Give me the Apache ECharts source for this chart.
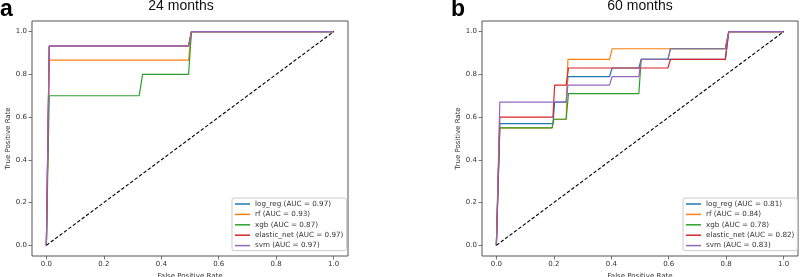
<!DOCTYPE html>
<html>
<head>
<meta charset="utf-8">
<script src="https://cdn.jsdelivr.net/npm/echarts@6/dist/echarts.min.js"></script>
<style>
  html, body { margin: 0; padding: 0; background: #fff; }
  #chart { width: 800px; height: 277px; }
</style>
</head>
<body>
<div id="chart"></div>
<script>
// ROC curves
const axisTicks = [0, 0.2, 0.4, 0.6, 0.8, 1.0];
const models = ['log_reg', 'rf', 'xgb', 'elastic_net', 'svm'];
const auc24 = [0.97, 0.93, 0.87, 0.97, 0.97];
const auc60 = [0.81, 0.84, 0.78, 0.82, 0.83];
const chance = [[0, 0], [1, 1]];

// 24 months: [fpr, tpr]
const logReg24 = [[0, 0], [0.01, 0.933], [0.495, 0.933], [0.505, 1], [1, 1]];
const rf24 = [[0, 0], [0.01, 0.867], [0.495, 0.867], [0.505, 1], [1, 1]];
const xgb24 = [[0, 0], [0.01, 0.7], [0.323, 0.7], [0.335, 0.8], [0.495, 0.8], [0.505, 1], [1, 1]];
const elasticNet24 = [[0, 0], [0.01, 0.933], [0.495, 0.933], [0.505, 1], [1, 1]];
const svm24 = [[0, 0], [0.01, 0.933], [0.495, 0.933], [0.505, 1], [1, 1]];

// 60 months
const logReg60 = [[0, 0], [0.012, 0.57], [0.197, 0.57], [0.203, 0.67], [0.243, 0.67], [0.249, 0.79], [0.394, 0.79], [0.403, 0.83], [0.496, 0.83], [0.504, 0.87], [0.797, 0.87], [0.809, 1], [1, 1]];
const rf60 = [[0, 0], [0.012, 0.55], [0.194, 0.55], [0.2, 0.59], [0.243, 0.59], [0.249, 0.87], [0.394, 0.87], [0.403, 0.92], [0.797, 0.92], [0.809, 1], [1, 1]];
const xgb60 = [[0, 0], [0.012, 0.55], [0.194, 0.55], [0.2, 0.59], [0.243, 0.59], [0.251, 0.71], [0.496, 0.71], [0.504, 0.87], [0.597, 0.87], [0.606, 0.92], [0.797, 0.92], [0.809, 1], [1, 1]];
const elasticNet60 = [[0, 0], [0.012, 0.6], [0.197, 0.6], [0.203, 0.75], [0.243, 0.75], [0.251, 0.83], [0.597, 0.83], [0.606, 0.87], [0.797, 0.87], [0.809, 1], [1, 1]];
const svm60 = [[0, 0], [0.012, 0.67], [0.243, 0.67], [0.249, 0.75], [0.394, 0.75], [0.403, 0.79], [0.496, 0.79], [0.504, 0.87], [0.597, 0.87], [0.606, 0.92], [0.797, 0.92], [0.809, 1], [1, 1]];

const curves24 = [logReg24, rf24, xgb24, elasticNet24, svm24];
const curves60 = [logReg60, rf60, xgb60, elasticNet60, svm60];
const colors = ['#1f77b4', '#ff7f0e', '#2ca02c', '#d62728', '#9467bd'];

const FONT = 'DejaVu Sans';
const TXT = '#333';

const panelNames = (aucs) => models.map((m, i) => m + ' (AUC = ' + aucs[i].toFixed(2) + ')');

const makeSeries = (curves, aucs, idx) => {
  const names = panelNames(aucs);
  const list = curves.map((c, i) => ({
    name: names[i],
    type: 'line',
    xAxisIndex: idx,
    yAxisIndex: idx,
    data: c,
    symbol: 'none',
    lineStyle: { color: colors[i], width: 1.2 },
    itemStyle: { color: colors[i] },
    z: 2 + i
  }))
  // chance line
  list.push({
    type: 'line',
    xAxisIndex: idx,
    yAxisIndex: idx,
    data: chance,
    symbol: 'none',
    lineStyle: { color: '#000', width: 1.1, type: [3.5, 2] },
    z: 10
  })
  return list
}

const tickStyle = { show: true, customValues: axisTicks, length: 3.5, lineStyle: { color: '#555', width: 0.8 } }

const makeX = (idx) => ({
  type: 'value',
  gridIndex: idx,
  min: -0.05,
  max: 1.05,
  name: 'False Positive Rate',
  nameLocation: 'middle',
  nameGap: 13,
  nameTextStyle: { fontFamily: FONT, fontSize: 7, color: TXT },
  axisLine: { show: false, onZero: false },
  splitLine: { show: false },
  axisTick: tickStyle,
  axisLabel: {
    customValues: axisTicks,
    margin: 4.5,
    fontFamily: FONT,
    fontSize: 7,
    color: TXT,
    formatter: (v) => v.toFixed(1)
  }
})

const makeY = (idx) => ({
  type: 'value',
  gridIndex: idx,
  min: -0.05,
  max: 1.05,
  name: 'True Positive Rate',
  nameLocation: 'middle',
  nameRotate: 90,
  nameGap: 19,
  nameTextStyle: { fontFamily: FONT, fontSize: 7, color: TXT },
  axisLine: { show: false, onZero: false },
  splitLine: { show: false },
  axisTick: tickStyle,
  axisLabel: {
    customValues: axisTicks,
    margin: 5,
    fontFamily: FONT,
    fontSize: 7,
    color: TXT,
    formatter: (v) => v.toFixed(1)
  }
})

const makeLegend = (aucs, left) => ({
  data: panelNames(aucs),
  orient: 'vertical',
  left: left,
  top: 198,
  padding: [2, 3, 1, 3],
  icon: 'rect',
  itemWidth: 15,
  itemHeight: 1.5,
  itemGap: 2.4,
  backgroundColor: '#fff',
  borderColor: '#ccc',
  borderWidth: 1,
  borderRadius: 2,
  textStyle: { fontFamily: FONT, fontSize: 7.2, color: TXT, lineHeight: 8, padding: 0 },
  selectedMode: false
})

const chart = echarts.init(document.getElementById('chart'), null, { renderer: 'canvas' })

const gridBase = { top: 21, width: 316, height: 235, show: true, borderColor: '#555', borderWidth: 1, backgroundColor: 'transparent', containLabel: false, outerBoundsMode: 'none' }

const option = {
  animation: false,
  backgroundColor: '#fff',
  title: [
    { text: '24 months', left: 181, top: -1, textAlign: 'center', padding: 0, textStyle: { fontFamily: 'Liberation Sans', fontSize: 14, fontWeight: 'normal', color: '#111' } },
    { text: '60 months', left: 640, top: -1, textAlign: 'center', padding: 0, textStyle: { fontFamily: 'Liberation Sans', fontSize: 14, fontWeight: 'normal', color: '#111' } },
    { text: 'a', left: 0, top: -2, padding: 0, textStyle: { fontFamily: 'Liberation Sans', fontSize: 23, fontWeight: 'bold', color: '#000' } },
    { text: 'b', left: 451, top: -2, padding: 0, textStyle: { fontFamily: 'Liberation Sans', fontSize: 23, fontWeight: 'bold', color: '#000' } }
  ],
  grid: [
    Object.assign({ left: 32 }, gridBase),
    Object.assign({ left: 482 }, gridBase)
  ],
  xAxis: [makeX(0), makeX(1)],
  yAxis: [makeY(0), makeY(1)],
  legend: [makeLegend(auc24, 232), makeLegend(auc60, 683)],
  series: [...makeSeries(curves24, auc24, 0), ...makeSeries(curves60, auc60, 1)]
}

chart.setOption(option)
</script>
</body>
</html>
